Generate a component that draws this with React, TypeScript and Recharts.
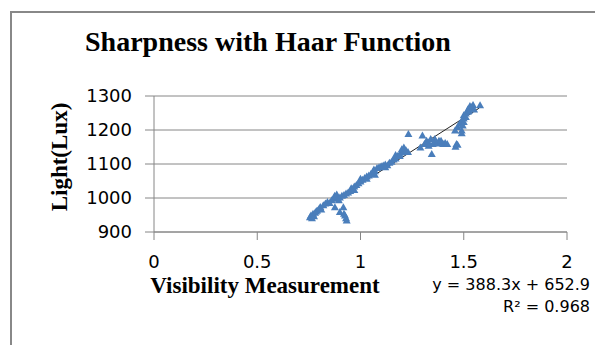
import React from 'react';
import { ScatterChart, Scatter, XAxis, YAxis, CartesianGrid, ReferenceLine } from 'recharts';

const visibility = [
  0.755, 0.76, 0.765, 0.77, 0.775, 0.78, 0.785, 0.79, 0.8, 0.805, 0.81, 0.82, 0.83, 0.84, 0.85, 0.86, 0.87, 0.875, 0.88, 0.885, 0.89, 0.895,
  0.876, 0.9, 0.917, 0.925, 0.93, 0.933, 0.92,
  0.9, 0.91, 0.92, 0.93, 0.94, 0.95, 0.955, 0.96, 0.97, 0.98, 0.99, 1.0, 1.0, 1.01, 1.02, 1.03, 1.04, 1.05, 1.06, 1.065, 1.07, 1.08, 1.09,
  1.1, 1.11, 1.12, 1.13, 1.14, 1.15, 1.16, 1.17, 1.18, 1.19, 1.2, 1.2, 1.21, 1.22, 1.23, 1.232,
  1.29, 1.3, 1.31, 1.32, 1.33, 1.34, 1.345, 1.35, 1.36, 1.37, 1.38, 1.39, 1.4, 1.41, 1.42, 1.46, 1.47, 1.465, 1.458, 1.49, 1.49,
  1.47, 1.48, 1.49, 1.5, 1.5, 1.51, 1.51, 1.52, 1.52, 1.525, 1.53, 1.53, 1.535, 1.54, 1.545, 1.55, 1.5, 1.495, 1.579,
  0.97, 1.03, 1.07, 1.12, 1.17, 1.19, 1.21, 1.33, 1.36, 1.39,
];
const light = [
  945, 950, 942, 955, 948, 958, 962, 965, 970, 975, 968, 980, 985, 990, 987, 995, 1000, 1008, 1005, 1012, 1000, 995,
  974, 960, 974, 950, 942, 935, 955,
  1003, 1008, 1010, 1015, 1018, 1022, 1030, 1028, 1035, 1040, 1045, 1050, 1058, 1055, 1060, 1065, 1068, 1072, 1078, 1085, 1080, 1090, 1092,
  1095, 1097, 1100, 1098, 1105, 1108, 1115, 1118, 1125, 1130, 1135, 1145, 1140, 1142, 1137, 1190,
  1150, 1185, 1160, 1170, 1165, 1175, 1131, 1160, 1168, 1162, 1170, 1165, 1160, 1163, 1160, 1152, 1158, 1160, 1200, 1200, 1192,
  1210, 1220, 1228, 1235, 1245, 1240, 1250, 1255, 1262, 1258, 1268, 1272, 1265, 1270, 1275, 1262, 1225, 1215, 1274,
  1025, 1058, 1070, 1092, 1128, 1125, 1150, 1155, 1175, 1170,
];
const xTicks = [0, 0.5, 1, 1.5, 2];
const yTicks = [900, 1000, 1100, 1200, 1300];
const trendStartEnd = [0.755, 1.575];
const slope = 388.3;
const intercept = 652.9;

const points = visibility.map((x, i) => ({ x, y: light[i] }));
const trendSegment = trendStartEnd.map((x) => ({ x, y: slope * x + intercept }));

const GRID = '#868686';
const BLUE = '#4a7ebb';

const Triangle = (props: any) => {
  const { cx, cy } = props;
  if (cx == null || cy == null) return null;
  const h = 7;
  const w = 8;
  const d = `M${cx},${cy - h / 2} L${cx + w / 2},${cy + h / 2} L${cx - w / 2},${cy + h / 2} Z`;
  return <path d={d} fill={BLUE} />;
};

export default function App() {
  return (
    <div style={{ position: 'absolute', left: 0, top: 0, width: 595, height: 345, background: '#fff', overflow: 'hidden' }}>
      <div style={{ position: 'absolute', left: 10, top: 11, width: 640, height: 400, borderLeft: '2px solid #888', borderTop: '2px solid #888' }} />
      <ScatterChart width={595} height={345} margin={{ top: 96, right: 28, bottom: 83, left: 94 }} style={{ position: 'absolute', left: 0, top: 0 }}>
        <CartesianGrid vertical={false} stroke={GRID} strokeWidth={1} />
        <XAxis
          type="number"
          dataKey="x"
          domain={[0, 2]}
          ticks={xTicks}
          height={30}
          axisLine={{ stroke: GRID }}
          tickLine={{ stroke: GRID }}
          tickSize={8}
          tickMargin={15}
          tick={{ fill: '#000', fontSize: 18, fontFamily: 'DejaVu Sans' }}
          interval={0}
        />
        <YAxis
          type="number"
          dataKey="y"
          domain={[900, 1300]}
          ticks={yTicks}
          width={60}
          axisLine={{ stroke: GRID }}
          tickLine={{ stroke: GRID }}
          tickSize={9}
          tickMargin={13}
          tick={{ fill: '#000', fontSize: 18, fontFamily: 'DejaVu Sans' }}
          interval={0}
        />
        <Scatter data={points} fill={BLUE} shape={Triangle} isAnimationActive={false} />
        <ReferenceLine segment={trendSegment} stroke="#222" strokeWidth={1} />
      </ScatterChart>
      <svg width={595} height={345} style={{ position: 'absolute', left: 0, top: 0, pointerEvents: 'none' }}>
        <text x={268} y={51} textAnchor="middle" fontFamily="Liberation Serif" fontWeight="bold" fontSize={28} fill="#000">
          Sharpness with Haar Function
        </text>
        <text transform="translate(67,157) rotate(-90)" textAnchor="middle" fontFamily="Liberation Serif" fontWeight="bold" fontSize={23} fill="#000">
          Light(Lux)
        </text>
        <text x={265} y={293} textAnchor="middle" fontFamily="Liberation Serif" fontWeight="bold" fontSize={23} fill="#000">
          Visibility Measurement
        </text>
        <text x={590} y={290} textAnchor="end" fontFamily="DejaVu Sans" fontSize={16} fill="#000">
          y = 388.3x + 652.9
        </text>
        <text x={590} y={312} textAnchor="end" fontFamily="DejaVu Sans" fontSize={16} fill="#000">
          R² = 0.968
        </text>
      </svg>
    </div>
  );
}
